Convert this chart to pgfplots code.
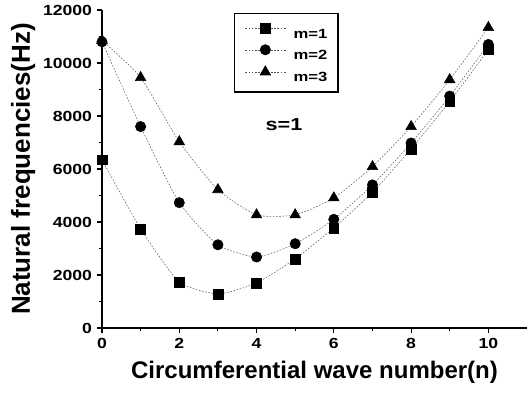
\documentclass[border=0pt]{standalone}
\usepackage{pgfplots}
\pgfplotsset{compat=1.18}
\usepackage{fontspec}
\setmainfont{Liberation Sans}
\newfontfamily\widefont[FakeStretch=1.2]{Liberation Sans}
\newfontfamily\widerfont[FakeStretch=1.25]{Liberation Sans}
\begin{document}
\begin{tikzpicture}
\begin{axis}[
  name=main,
  scale only axis,
  width=318.75pt, height=238.5pt,
  xmin=0, xmax=11, ymin=0, ymax=12000,
  axis lines=left,
  axis line style={-, line width=1.1pt},
  xtick={0,2,4,6,8,10},
  ytick={0,2000,4000,6000,8000,10000,12000},
  minor x tick num=1, minor y tick num=1,
  tick align=outside,
  major tick length=4pt, minor tick length=2.5pt,
  tick style={black, line width=0.8pt},
  /pgf/number format/assume math mode=true,
  /pgf/number format/1000 sep={},
  scaled y ticks=false,
  tick label style={font=\widefont\bfseries\fontsize{11}{13}\selectfont},
  xlabel={Circumferential wave number(n)},
  ylabel={Natural frequencies(Hz)},
  xlabel style={font=\bfseries\fontsize{18}{20}\selectfont, yshift=-3pt},
  ylabel style={font=\bfseries\fontsize{19.5}{21}\selectfont, yshift=-1pt},
  clip=false,
  legend style={at={(axis cs:3.41,11887)}, anchor=north west, draw=black, line width=1pt,
    font=\widerfont\bfseries\fontsize{10}{12}\selectfont,
    nodes={inner sep=0pt, text height=7.5pt, text depth=0pt},
    row sep=4.5pt, column sep=6pt, inner xsep=8pt, inner ysep=7.5pt,
    cells={anchor=west}},
  legend cell align=left,
  legend image code/.code={\draw[mark repeat=2,mark phase=2,#1] plot coordinates {(0pt,3.75pt) (15pt,3.75pt) (30pt,3.75pt)};},
  every axis plot/.append style={gray!70!black, line width=0.4pt, dash pattern=on 1.2pt off 1.2pt, smooth, tension=0.35,
     mark options={solid, fill=black, draw=black}},
]
\addplot[mark=square*, mark size=3.7pt] coordinates {
(0,6350) (1,3740) (2,1740) (3,1285) (4,1700) (5,2610) (6,3780) (7,5120) (8,6760) (9,8550) (10,10500)};
\addlegendentry{m=1}
\addplot[mark=*, mark size=3.9pt] coordinates {
(0,10800) (1,7600) (2,4730) (3,3140) (4,2680) (5,3180) (6,4100) (7,5400) (8,6980) (9,8750) (10,10700)};
\addlegendentry{m=2}
\addplot[mark=triangle*, mark size=4.6pt] coordinates {
(0,10850) (1,9450) (2,7030) (3,5220) (4,4270) (5,4270) (6,4910) (7,6090) (8,7600) (9,9370) (10,11340)};
\addlegendentry{m=3}
\node[font=\widerfont\bfseries\fontsize{13}{15}\selectfont] at (axis cs:4.71,7660) {s=1};
\end{axis}
\path (main.south west) ++(-76.5pt,246pt) coordinate (tl);
\path (main.south west) ++(320.25pt,-49.5pt) coordinate (br);
\path (tl) rectangle (br);
\end{tikzpicture}
\end{document}
